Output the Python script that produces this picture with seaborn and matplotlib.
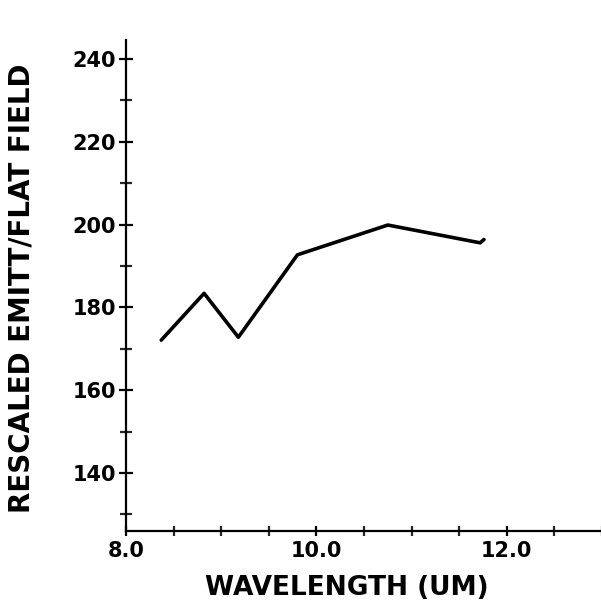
import numpy as np
import pandas as pd
import seaborn as sns
import matplotlib.pyplot as plt
from matplotlib.ticker import MultipleLocator, FormatStrFormatter

# values
wavelength = [8.37, 8.82, 9.18, 9.80, 10.75, 11.72, 11.76]
emitt_flat = [172.1, 183.4, 172.8, 192.7, 199.9, 195.6, 196.4]

sns.set_theme(style='ticks')
plt.rcParams['font.family'] = ['DejaVu Sans']
plt.rcParams['font.weight'] = 'bold'

df = pd.DataFrame({'wavelength': wavelength, 'value': emitt_flat})

fig = plt.figure(figsize=(6.01, 6.01), dpi=100)
ax = fig.add_axes([0.2097, 0.1165, 0.7920, 0.8170])

sns.lineplot(data=df, x='wavelength', y='value', ax=ax, color='black',
             linewidth=2.6, sort=False, estimator=None)

ax.set_xlim(8.0, 13.0)
ax.set_ylim(126, 244.6)

ax.xaxis.set_major_locator(MultipleLocator(2.0))
ax.xaxis.set_minor_locator(MultipleLocator(0.5))
ax.yaxis.set_major_locator(MultipleLocator(20))
ax.yaxis.set_minor_locator(MultipleLocator(10))
ax.xaxis.set_major_formatter(FormatStrFormatter('%.1f'))
ax.set_yticks([140, 160, 180, 200, 220, 240])

for side in ['top', 'right']:
    ax.spines[side].set_visible(False)
for side in ['left', 'bottom']:
    ax.spines[side].set_linewidth(1.6)
    ax.spines[side].set_color('black')

ax.tick_params(axis='y', which='major', direction='inout', length=10, width=1.6,
               pad=2, labelsize=15, colors='black')
ax.tick_params(axis='y', which='minor', direction='inout', length=8, width=1.6)
ax.tick_params(axis='x', which='major', direction='inout', length=7, width=1.6,
               pad=4, labelsize=15, colors='black')
ax.tick_params(axis='x', which='minor', direction='inout', length=7, width=1.6)

for lab in ax.get_xticklabels() + ax.get_yticklabels():
    lab.set_fontweight('bold')

ax.set_xlabel('WAVELENGTH (UM)', fontsize=19, fontweight='bold', color='black')
ax.set_ylabel('RESCALED EMITT/FLAT FIELD', fontsize=20, fontweight='bold', color='black')
ax.xaxis.set_label_coords(0.464, -0.09)
ax.yaxis.set_label_coords(-0.19, 0.495)

fig.savefig('out.png', dpi=100, facecolor='white')
